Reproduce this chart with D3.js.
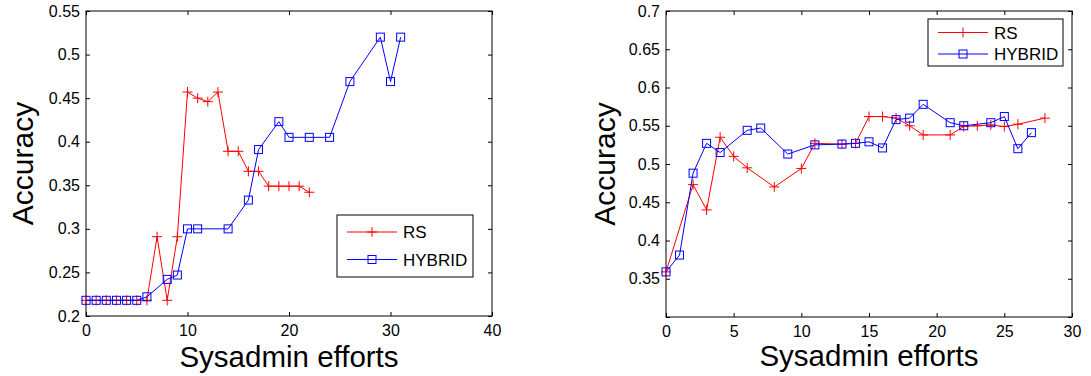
<!DOCTYPE html>
<meta charset="utf-8">
<head>
<style>
body { margin: 0; background: #fff; }
svg { font-family: "Liberation Sans", Arial, Helvetica, sans-serif; }
.tick text { font-size: 16px; fill: #000; }
.tick line { stroke: #000; }
</style>
<script src="https://cdnjs.cloudflare.com/ajax/libs/d3/7.8.5/d3.min.js"></script>
</head>
<body>
<div id="vis-container"></div>
<script>
// left panel
var leftRsX  = [0, 1, 2, 3, 4, 5, 6, 7, 8, 9, 10, 11, 12, 13, 14, 15, 16, 17, 18, 19, 20, 21, 22]
var leftRsY  = [0.218, 0.218, 0.218, 0.218, 0.218, 0.218, 0.218, 0.291, 0.218, 0.291, 0.457, 0.450, 0.446, 0.457,
                0.389, 0.389, 0.366, 0.366, 0.349, 0.349, 0.349, 0.349, 0.342]
var leftHybX = [0, 1, 2, 3, 4, 5, 6, 8, 9, 10, 11, 14, 16, 17, 19, 20, 22, 24, 26, 29, 30, 31]
var leftHybY = [0.218, 0.218, 0.218, 0.218, 0.218, 0.218, 0.222, 0.242, 0.247, 0.300, 0.300, 0.300, 0.333, 0.391,
                0.423, 0.405, 0.405, 0.405, 0.469, 0.520, 0.469, 0.520]
var leftXTicks = [0, 10, 20, 30, 40]
var leftYTicks = [0.2, 0.25, 0.3, 0.35, 0.4, 0.45, 0.5, 0.55]

// right panel
var rightRsX  = [0, 2, 3, 4, 5, 6, 8, 10, 11, 13, 14, 15, 16, 17, 18, 19, 21, 22, 23, 24, 25, 26, 28]
var rightRsY  = [0.359, 0.473, 0.440, 0.535, 0.510, 0.495, 0.470, 0.494, 0.527, 0.526, 0.527, 0.562, 0.562, 0.560,
                 0.550, 0.538, 0.538, 0.549, 0.550, 0.551, 0.549, 0.552, 0.560]
var rightHybX = [0, 1, 2, 3, 4, 6, 7, 9, 11, 13, 14, 15, 16, 17, 18, 19, 21, 22, 24, 25, 26, 27]
var rightHybY = [0.359, 0.381, 0.488, 0.527, 0.515, 0.544, 0.547, 0.513, 0.525, 0.526, 0.527, 0.529, 0.521, 0.558,
                 0.560, 0.578, 0.554, 0.550, 0.554, 0.562, 0.520, 0.541]
var rightXTicks = [0, 5, 10, 15, 20, 25, 30]
var rightYTicks = [0.3, 0.35, 0.4, 0.45, 0.5, 0.55, 0.6, 0.65, 0.7]
var rightYLabels = ['', '0.35', '0.4', '0.45', '0.5', '0.55', '0.6', '0.65', '0.7']

var seriesNames = ['RS', 'HYBRID']

var svg = d3.select('#vis-container').append('svg')
	.attr('width', 1091)
	.attr('height', 376)

var zip = function(xs, ys){
	var out = []
	for (var i = 0; i < xs.length; i ++){
		out.push([xs[i], ys[i]])
	}
	return out
}

var fmt = function(d){ return String(+d.toFixed(2)) }

var drawPanel = function(opt){
	var width = opt.right - opt.left, height = opt.bottom - opt.top
	var g = svg.append('g').attr('transform', 'translate(' + opt.left + ',' + opt.top + ')')
	var x = d3.scaleLinear().domain(opt.xDomain).range([0, width])
	var y = d3.scaleLinear().domain(opt.yDomain).range([height, 0])

	g.append('rect').attr('width', width).attr('height', height)
		.attr('fill', '#fff').attr('stroke', '#000').attr('stroke-width', 1)

	var yFmt = opt.yLabels ? function(d, i){ return opt.yLabels[i] } : fmt

	var bx = g.append('g').attr('transform', 'translate(0,' + height + ')')
		.call(d3.axisBottom(x).tickValues(opt.xTicks).tickFormat(fmt).tickSize(-4).tickPadding(9))
	var tx = g.append('g')
		.call(d3.axisTop(x).tickValues(opt.xTicks).tickFormat('').tickSize(-4))
	var ly = g.append('g')
		.call(d3.axisLeft(y).tickValues(opt.yTicks).tickFormat(yFmt).tickSize(-4).tickPadding(6))
	var ry = g.append('g').attr('transform', 'translate(' + width + ',0)')
		.call(d3.axisRight(y).tickValues(opt.yTicks).tickFormat('').tickSize(-4))
	;[bx, tx, ly, ry].forEach(function(a){ a.select('.domain').remove() })

	var line = d3.line().x(function(d){ return x(d[0]) }).y(function(d){ return y(d[1]) })

	// RS
	var rs = zip(opt.rsX, opt.rsY)
	g.append('path').datum(rs).attr('d', line)
		.attr('fill', 'none').attr('stroke', '#ff0000').attr('stroke-width', 1)
	g.selectAll('.plus').data(rs).enter().append('path')
		.attr('class', 'plus')
		.attr('d', function(d){
			var cx = x(d[0]), cy = y(d[1])
			return 'M' + (cx - 5) + ',' + cy + 'H' + (cx + 5) + 'M' + cx + ',' + (cy - 5) + 'V' + (cy + 5)
		})
		.attr('stroke', '#ff0000').attr('stroke-width', 1)

	// HYBRID
	var hy = zip(opt.hybX, opt.hybY)
	g.append('path').datum(hy).attr('d', line)
		.attr('fill', 'none').attr('stroke', '#0000ff').attr('stroke-width', 1)
	g.selectAll('.sq').data(hy).enter().append('rect')
		.attr('class', 'sq')
		.attr('x', function(d){ return x(d[0]) - 4 })
		.attr('y', function(d){ return y(d[1]) - 4 })
		.attr('width', 8).attr('height', 8)
		.attr('fill', 'none').attr('stroke', '#0000ff').attr('stroke-width', 1)

	// axis labels
	g.append('text')
		.attr('x', width / 2).attr('y', opt.xLabelY)
		.attr('text-anchor', 'middle')
		.style('font-size', '29.5px')
		.text('Sysadmin efforts')
	g.append('text')
		.attr('transform', 'translate(' + opt.yLabelX + ',' + (height / 2) + ') rotate(-90)')
		.attr('text-anchor', 'middle')
		.style('font-size', '30px')
		.text('Accuracy')

	// legend
	var lg = opt.legend
	var leg = svg.append('g').attr('transform', 'translate(' + lg.x + ',' + lg.y + ')')
	leg.append('rect').attr('width', lg.w).attr('height', lg.h)
		.attr('fill', '#fff').attr('stroke', '#000').attr('stroke-width', 1)
	var colors = ['#ff0000', '#0000ff']
	seriesNames.forEach(function(name, i){
		var ry0 = lg.row0 + i * lg.rowStep
		leg.append('line').attr('x1', lg.lx0).attr('x2', lg.lx1).attr('y1', ry0).attr('y2', ry0)
			.attr('stroke', colors[i]).attr('stroke-width', 1)
		var mx = (lg.lx0 + lg.lx1) / 2
		if (i == 0){
			leg.append('path')
				.attr('d', 'M' + (mx - 5) + ',' + ry0 + 'H' + (mx + 5) + 'M' + mx + ',' + (ry0 - 5) + 'V' + (ry0 + 5))
				.attr('stroke', colors[i])
		} else {
			leg.append('rect').attr('x', mx - 4).attr('y', ry0 - 4).attr('width', 8).attr('height', 8)
				.attr('fill', 'none').attr('stroke', colors[i])
		}
		leg.append('text').attr('x', lg.tx).attr('y', ry0).attr('dy', '0.36em')
			.style('font-size', '17px')
			.text(name)
	})
}

drawPanel({
	left: 86, right: 492, top: 11, bottom: 316,
	xDomain: [0, 40], yDomain: [0.2, 0.55],
	xTicks: leftXTicks, yTicks: leftYTicks,
	rsX: leftRsX, rsY: leftRsY, hybX: leftHybX, hybY: leftHybY,
	xLabelY: 356, yLabelX: -53,
	legend: {x: 337, y: 215, w: 136, h: 62, row0: 17, rowStep: 27.5, lx0: 10, lx1: 60, tx: 66}
})

drawPanel({
	left: 666, right: 1072, top: 11, bottom: 317,
	xDomain: [0, 30], yDomain: [0.3, 0.7],
	xTicks: rightXTicks, yTicks: rightYTicks, yLabels: rightYLabels,
	rsX: rightRsX, rsY: rightRsY, hybX: rightHybX, hybY: rightHybY,
	xLabelY: 355, yLabelX: -51,
	legend: {x: 928, y: 19, w: 135, h: 47, row0: 13.5, rowStep: 21.5, lx0: 10, lx1: 60, tx: 66}
})
</script>
</body>
</html>
